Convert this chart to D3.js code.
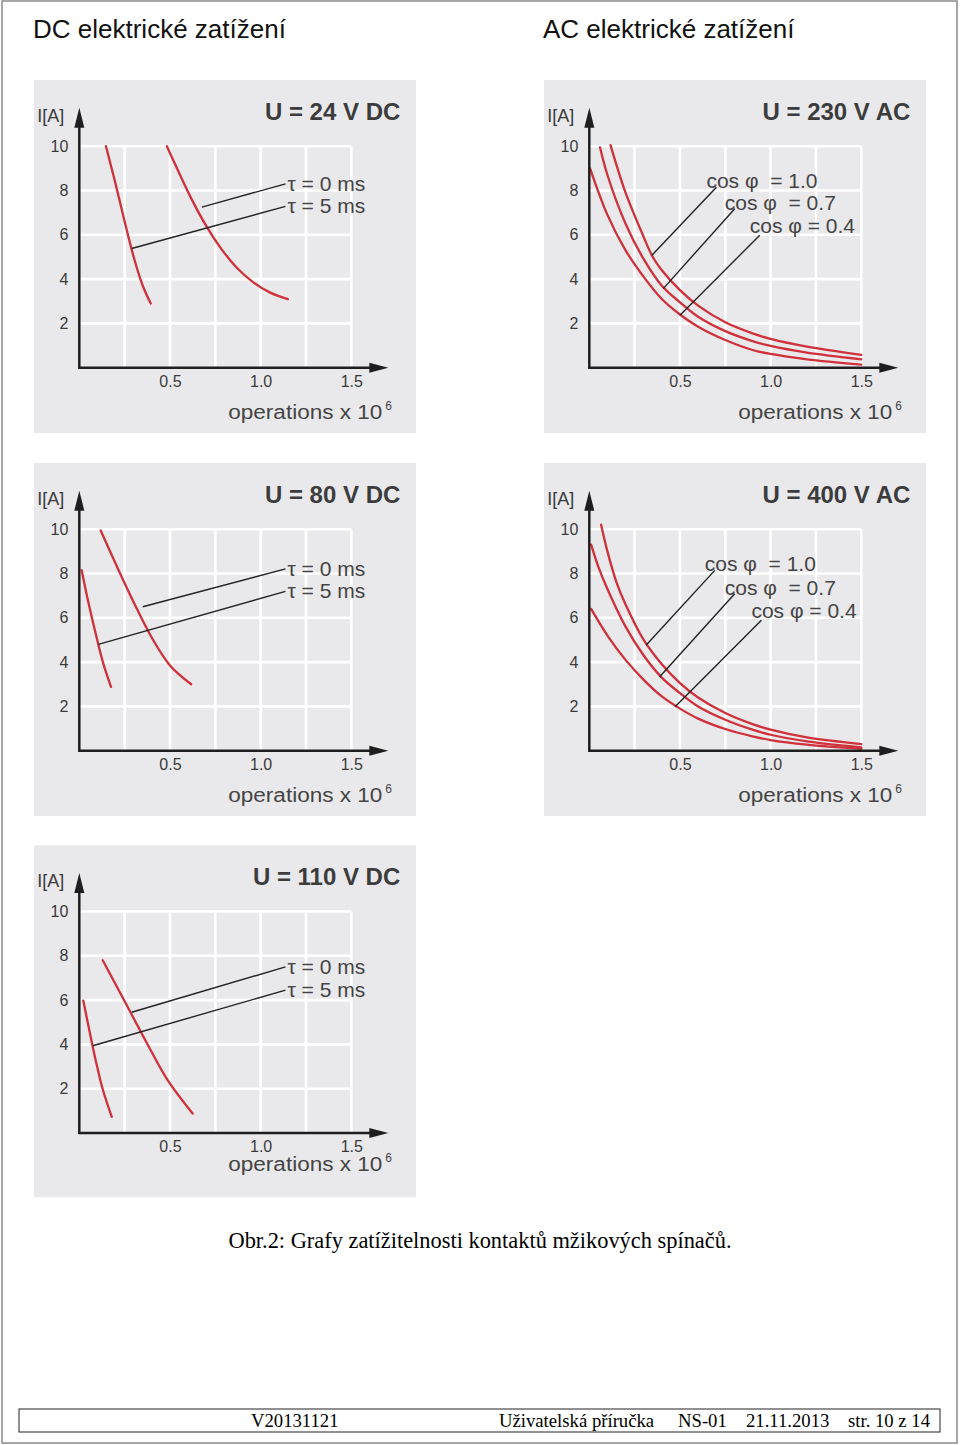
<!DOCTYPE html>
<html><head><meta charset="utf-8">
<script src="https://cdn.jsdelivr.net/npm/d3@7/dist/d3.min.js"></script>
<style>body{margin:0;background:#fff}</style>
</head><body><svg id="c" width="960" height="1445"></svg>
<script>
// ---------- data ----------
const xTicks = [0.5, 1.0, 1.5];
const yTicks = [2, 4, 6, 8, 10];
const xGridValues = [0.25, 0.5, 0.75, 1.0, 1.25, 1.5];
const yGridValues = [2, 4, 6, 8, 10];
const headers = ["DC elektrické zatížení", "AC elektrické zatížení"];
const panelTitles = ["U = 24 V DC", "U = 230 V AC", "U = 80 V DC", "U = 400 V AC", "U = 110 V DC"];
const dcLabels = ["τ = 0 ms", "τ = 5 ms"];
const acLabels = ["cos φ  = 1.0", "cos φ  = 0.7", "cos φ = 0.4"];
const xAxisTitle = "operations x 10";
const xAxisExp = "6";
const yAxisTitle = "I[A]";
const caption = "Obr.2: Grafy zatížitelnosti kontaktů mžikových spínačů.";
const footerTexts = ["V20131121", "Uživatelská příručka", "NS-01", "21.11.2013", "str. 10 z 14"];

// DC 24 V  (x = operations x10^6, y = I [A])
const dc24Tau0 = [[0.483,10.0],[0.55,8.8],[0.62,7.6],[0.7,6.4],[0.78,5.4],[0.87,4.5],[0.96,3.85],[1.05,3.4],[1.15,3.1]];
const dc24Tau5 = [[0.147,10.0],[0.2,8.3],[0.25,6.6],[0.3,5.0],[0.35,3.7],[0.394,2.9]];
const dc24Leaders = [[[0.676,7.25],[1.137,8.30]], [[0.289,5.38],[1.137,7.28]]];
// DC 80 V
const dc80Tau0 = [[0.118,9.94],[0.2,8.45],[0.3,6.7],[0.4,5.1],[0.5,3.85],[0.617,3.0]];
const dc80Tau5 = [[0.013,8.15],[0.05,6.7],[0.09,5.3],[0.13,4.0],[0.175,2.88]];
const dc80Leaders = [[[0.35,6.5],[1.137,8.21]], [[0.105,4.8],[1.137,7.19]]];
// DC 110 V
const dc110Tau0 = [[0.129,7.8],[0.25,5.95],[0.37,4.1],[0.49,2.35],[0.625,0.88]];
const dc110Tau5 = [[0.022,5.98],[0.055,4.65],[0.09,3.3],[0.13,1.95],[0.179,0.73]];
const dc110Leaders = [[[0.289,5.45],[1.137,7.5]], [[0.074,3.94],[1.137,6.45]]];
// AC 230 V
const ac230Cos10 = [[0.117,10.05],[0.2,7.9],[0.3,5.9],[0.35,5.0],[0.4,4.4],[0.5,3.5],[0.6,2.8],[0.75,2.05],[0.9,1.55],[1.0,1.3],[1.2,0.95],[1.5,0.58]];
const ac230Cos07 = [[0.059,9.95],[0.1,8.7],[0.2,6.5],[0.3,4.9],[0.4,3.7],[0.5,2.95],[0.6,2.3],[0.75,1.65],[0.9,1.2],[1.0,0.98],[1.2,0.68],[1.5,0.38]];
const ac230Cos04 = [[0.004,9.0],[0.1,6.9],[0.2,5.3],[0.3,4.1],[0.4,3.1],[0.5,2.4],[0.6,1.85],[0.75,1.25],[0.9,0.8],[1.0,0.62],[1.2,0.38],[1.5,0.14]];
const ac230Leaders = [[[0.344,5.07],[0.701,8.15]], [[0.408,3.57],[0.802,7.18]], [[0.5,2.37],[0.94,5.98]]];
// AC 400 V
const ac400Cos10 = [[0.065,10.2],[0.1,9.0],[0.15,7.6],[0.2,6.6],[0.3,5.0],[0.4,3.9],[0.5,3.05],[0.6,2.4],[0.75,1.7],[0.9,1.2],[1.0,0.95],[1.2,0.6],[1.5,0.3]];
const ac400Cos07 = [[0.01,9.3],[0.05,8.3],[0.1,7.3],[0.2,5.6],[0.3,4.3],[0.4,3.3],[0.5,2.6],[0.6,2.0],[0.75,1.4],[0.9,0.95],[1.0,0.72],[1.2,0.42],[1.5,0.15]];
const ac400Cos04 = [[0.01,6.4],[0.1,5.2],[0.2,4.1],[0.3,3.2],[0.4,2.45],[0.5,1.9],[0.6,1.45],[0.75,0.98],[0.9,0.65],[1.0,0.48],[1.2,0.27],[1.5,0.08]];
const ac400Leaders = [[[0.313,4.76],[0.692,8.14]], [[0.387,3.33],[0.802,7.09]], [[0.473,1.98],[0.949,5.89]]];

// ---------- layout ----------
const W = 960, H = 1445;
const svg = d3.select("#c");
svg.append("rect").attr("width", W).attr("height", H).attr("fill", "#fff");
svg.append("rect").attr("x", 2).attr("y", 1).attr("width", 955).attr("height", 1442)
  .attr("fill", "none").attr("stroke", "#8a8a8a").attr("stroke-width", 1.5);

const sans = "'Liberation Sans', Arial, sans-serif";
const serif = "'Liberation Serif', 'Times New Roman', serif";

svg.append("text").attr("x", 33).attr("y", 38).attr("font-family", sans).attr("font-size", 26)
  .attr("fill", "#111").text(headers[0]);
svg.append("text").attr("x", 543).attr("y", 38).attr("font-family", sans).attr("font-size", 26)
  .attr("fill", "#111").text(headers[1]);

const panels = [
  {ox: 79.3, oy: 367.7, title: panelTitles[0], curves: [dc24Tau0, dc24Tau5], leaders: dc24Leaders, labels: dcLabels, kind: "dc", bgH: 353, opsDy: 51, tickDy: 20},
  {ox: 589.3, oy: 367.7, title: panelTitles[1], curves: [ac230Cos10, ac230Cos07, ac230Cos04], leaders: ac230Leaders, labels: acLabels, kind: "ac", bgH: 353, opsDy: 51, tickDy: 20},
  {ox: 79.3, oy: 750.7, title: panelTitles[2], curves: [dc80Tau0, dc80Tau5], leaders: dc80Leaders, labels: dcLabels, kind: "dc", bgH: 353, opsDy: 51, tickDy: 20},
  {ox: 589.3, oy: 750.7, title: panelTitles[3], curves: [ac400Cos10, ac400Cos07, ac400Cos04], leaders: ac400Leaders, labels: acLabels, kind: "ac", bgH: 353, opsDy: 51, tickDy: 20},
  {ox: 79.3, oy: 1133, title: panelTitles[4], curves: [dc110Tau0, dc110Tau5], leaders: dc110Leaders, labels: dcLabels, kind: "dc", bgH: 352, opsDy: 38, tickDy: 20}
];

const textCol = "#3a3a3a";

panels.forEach(p => {
  const g = svg.append("g");
  const x = d3.scaleLinear().domain([0, 1.5]).range([p.ox, p.ox + 272]);
  const y = d3.scaleLinear().domain([0, 10]).range([p.oy, p.oy - 221.5]);

  g.append("rect").attr("x", p.ox - 45.3).attr("y", p.oy - 287.7).attr("width", 382).attr("height", p.bgH)
    .attr("fill", "#e9e9eb");

  // grid
  g.selectAll(".hg").data(yGridValues).enter().append("line")
    .attr("x1", x(0)).attr("x2", x(1.5)).attr("y1", d => y(d)).attr("y2", d => y(d))
    .attr("stroke", "#fff").attr("stroke-width", 2.6);
  g.selectAll(".vg").data(xGridValues).enter().append("line")
    .attr("x1", d => x(d)).attr("x2", d => x(d)).attr("y1", y(0)).attr("y2", y(10))
    .attr("stroke", "#fff").attr("stroke-width", 2.6);

  // tick labels via d3 axes
  const ax = g.append("g").attr("transform", `translate(0,${p.oy})`)
    .call(d3.axisBottom(x).tickValues(xTicks).tickSize(0).tickPadding(p.tickDy - 12).tickFormat(d3.format(".1f")));
  ax.select(".domain").remove();
  ax.selectAll("text").attr("font-family", sans).attr("font-size", 16).attr("fill", textCol);

  const ay = g.append("g").attr("transform", `translate(${p.ox},0)`)
    .call(d3.axisLeft(y).tickValues(yTicks).tickSize(0).tickPadding(11).tickFormat(d3.format("d")));
  ay.select(".domain").remove();
  ay.selectAll("text").attr("font-family", sans).attr("font-size", 16).attr("fill", textCol);

  // curves
  const line = d3.line().x(d => x(d[0])).y(d => y(d[1])).curve(d3.curveCatmullRom.alpha(0.5));
  p.curves.forEach(c => {
    g.append("path").attr("d", line(c)).attr("fill", "none").attr("stroke", "#d0303a")
      .attr("stroke-width", 2.3).attr("stroke-linecap", "round");
  });

  // axes with arrows
  g.append("line").attr("x1", p.ox).attr("x2", p.ox).attr("y1", p.oy + 1).attr("y2", p.oy - 248)
    .attr("stroke", "#1e1e1e").attr("stroke-width", 2.5);
  g.append("path").attr("d", `M${p.ox},${p.oy - 260} L${p.ox - 5},${p.oy - 240} L${p.ox + 5},${p.oy - 240} Z`)
    .attr("fill", "#1e1e1e");
  g.append("line").attr("x1", p.ox - 1).attr("x2", p.ox + 296).attr("y1", p.oy).attr("y2", p.oy)
    .attr("stroke", "#1e1e1e").attr("stroke-width", 2.5);
  g.append("path").attr("d", `M${p.ox + 309},${p.oy} L${p.ox + 290},${p.oy - 5} L${p.ox + 290},${p.oy + 5} Z`)
    .attr("fill", "#1e1e1e");

  // leaders & labels
  p.leaders.forEach((l, i) => {
    g.append("line").attr("x1", x(l[0][0])).attr("y1", y(l[0][1])).attr("x2", x(l[1][0])).attr("y2", y(l[1][1]))
      .attr("stroke", "#222").attr("stroke-width", 1.4);
    const tx = p.kind === "dc" ? x(l[1][0]) + 2 : x(l[1][0]) - 10;
    const ty = p.kind === "dc" ? y(l[1][1]) + 7 : y(l[1][1]) + (i === 2 ? -2 : 1);
    g.append("text").attr("x", tx).attr("y", ty).attr("font-family", sans).attr("font-size", 21)
      .attr("fill", "#444").attr("xml:space", "preserve").style("white-space", "pre").text(p.labels[i]);
  });

  // titles
  g.append("text").attr("x", p.ox + 321).attr("y", p.oy - 248).attr("text-anchor", "end")
    .attr("font-family", sans).attr("font-weight", "bold").attr("font-size", 24).attr("fill", "#3c3c3c")
    .text(p.title);
  g.append("text").attr("x", p.ox - 42).attr("y", p.oy - 246).attr("font-family", sans)
    .attr("font-size", 18).attr("fill", textCol).text(yAxisTitle);
  g.append("text").attr("x", p.ox + 149).attr("y", p.oy + p.opsDy)
    .attr("font-family", sans).attr("font-size", 19.5).attr("fill", "#444")
    .attr("textLength", 154).attr("lengthAdjust", "spacingAndGlyphs").text(xAxisTitle);
  g.append("text").attr("x", p.ox + 306).attr("y", p.oy + p.opsDy - 9)
    .attr("font-family", sans).attr("font-size", 12).attr("fill", "#444").text(xAxisExp);
});

// caption
svg.append("text").attr("x", 480).attr("y", 1248).attr("text-anchor", "middle")
  .attr("font-family", serif).attr("font-size", 22.4).attr("fill", "#000").text(caption);

// footer
svg.append("rect").attr("x", 19).attr("y", 1409).attr("width", 921).attr("height", 23)
  .attr("fill", "none").attr("stroke", "#222").attr("stroke-width", 1);
const footerX = [251, 499, 678, 746, 848];
footerTexts.forEach((t, i) => {
  svg.append("text").attr("x", footerX[i]).attr("y", 1427).attr("font-family", serif)
    .attr("font-size", 18.7).attr("fill", "#000").text(t);
});
</script></body></html>
